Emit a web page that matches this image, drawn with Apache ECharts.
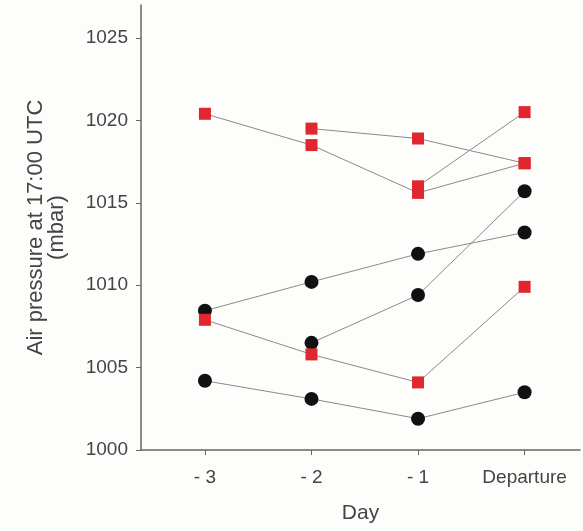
<!DOCTYPE html>
<html>
<head>
<meta charset="utf-8">
<script src="https://cdn.jsdelivr.net/npm/echarts@6/dist/echarts.min.js"></script>
<style>html,body{margin:0;padding:0;background:#fdfdfb;}#c{width:583px;height:531px;}</style>
</head>
<body>
<div id="c"></div>
<script>
// Categories (day positions)
var categories = ['- 3', '- 2', '- 1', 'Departure'];
var yTicks = [1000, 1005, 1010, 1015, 1020, 1025];

// Red square series (null = no value that day)
var redA = [1020.4, 1018.5, 1015.6, 1017.4];
var redB = [null, 1019.5, 1018.9, 1017.4];
var redC = [null, null, 1016.0, 1020.5];
var redD = [1007.9, 1005.8, 1004.1, 1009.9];

// Black circle series
var blackE = [1008.45, 1010.2, 1011.9, 1013.2];
var blackF = [null, 1006.5, 1009.4, 1015.7];
var blackG = [1004.2, 1003.1, 1001.9, 1003.5];

function toPairs(vals) {
  var out = [];
  vals.forEach(function (v, i) {
    if (v !== null) out.push([i - (categories.length - 1), v]);
  });
  return out;
}
var catPos = categories.map(function (c, i) { return i - (categories.length - 1); });

function mkSeries(vals, kind) {
  var red = kind === 'red';
  return {
    type: 'line',
    data: toPairs(vals),
    symbol: red ? 'rect' : 'circle',
    symbolSize: red ? 12 : 14,
    showSymbol: true,
    animation: false,
    lineStyle: { color: '#8a8a8a', width: 1 },
    itemStyle: { color: red ? '#e0262e' : '#111111', opacity: 1 },
    emphasis: { disabled: true }
  };
}

var chart = echarts.init(document.getElementById('c'), null, { renderer: 'canvas' });
var font = 'Liberation Sans, Arial, sans-serif';
chart.setOption({
  backgroundColor: '#fdfdfb',
  animation: false,
  grid: { left: 141, right: 3, top: 5, bottom: 81 },
  xAxis: {
    type: 'value',
    min: -3.6,
    max: 0.52,
    name: 'Day',
    nameLocation: 'middle',
    nameGap: 53,
    nameTextStyle: { fontSize: 21, color: '#444', fontFamily: font },
    axisLine: { show: true, onZero: false, lineStyle: { color: '#666', width: 1.5 } },
    axisTick: { show: true, inside: false, length: 5, customValues: catPos, lineStyle: { color: '#666' } },
    axisLabel: {
      customValues: catPos,
      margin: 18,
      fontSize: 19,
      color: '#444',
      fontFamily: font,
      formatter: function (v) { return categories[Math.round(v) + categories.length - 1]; }
    },
    splitLine: { show: false }
  },
  yAxis: {
    type: 'value',
    min: 1000,
    max: 1027,
    name: 'Air pressure at 17:00 UTC\n(mbar)',
    nameLocation: 'middle',
    nameGap: 74,
    nameRotate: 90,
    nameTextStyle: { fontSize: 22, color: '#444', fontFamily: font, lineHeight: 21 },
    axisLine: { show: true, onZero: false, lineStyle: { color: '#666', width: 1.5 } },
    axisTick: { show: true, length: 5, customValues: yTicks, lineStyle: { color: '#666' } },
    axisLabel: {
      customValues: yTicks, margin: 13, fontSize: 19, color: '#444', fontFamily: font,
      formatter: function (v) { return String(v); }
    },
    splitLine: { show: false }
  },
  series: [
    mkSeries(redA, 'red'),
    mkSeries(redB, 'red'),
    mkSeries(redC, 'red'),
    mkSeries(blackE, 'black'),
    mkSeries(blackF, 'black'),
    mkSeries(blackG, 'black'),
    mkSeries(redD, 'red')
  ]
});
</script>
</body>
</html>
